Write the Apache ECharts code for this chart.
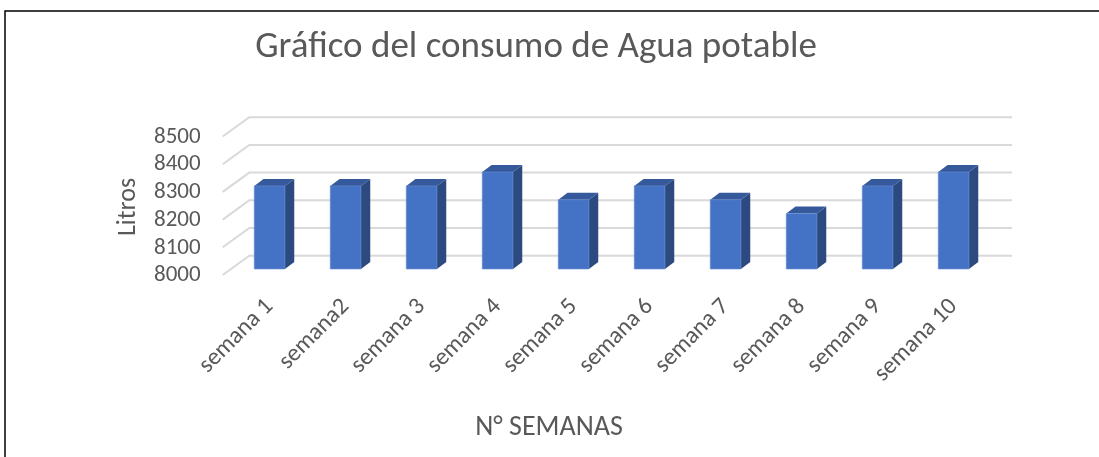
<!DOCTYPE html>
<html>
<head>
<meta charset="utf-8">
<script src="https://cdn.jsdelivr.net/npm/echarts@6/dist/echarts.min.js"></script>
<style>
  html, body { margin: 0; padding: 0; background: #fff; }
  #chart { width: 1099px; height: 457px; }
</style>
</head>
<body>
<div id="chart"></div>
<script>
'use strict';

var semanas = ['semana 1', 'semana2', 'semana 3', 'semana 4', 'semana 5',
               'semana 6', 'semana 7', 'semana 8', 'semana 9', 'semana 10'];
var litros = [8300, 8300, 8300, 8350, 8250, 8300, 8250, 8200, 8300, 8350];
var yTicks = [8000, 8100, 8200, 8300, 8400, 8500];

var FONT = 'Carlito, "Open Sans", sans-serif';
var yMin = yTicks[0];

var chart = echarts.init(document.getElementById('chart'));

// 3d-ish bar: front face, right side and top
function renderBar(params, api) {
    var top = api.coord([api.value(0), api.value(1)]);
    var base = api.coord([api.value(0), yMin]);
    var w = api.size([1, 0])[0] * 0.404;
    var dx = 9.3, dy = -7;
    var x = top[0] - w / 2;

    return {
        type: 'group',
        children: [
            {
                type: 'polygon',
                shape: { points: [[x + w, top[1]], [x + w + dx, top[1] + dy], [x + w + dx, base[1] + dy], [x + w, base[1]]] },
                style: { fill: '#2c4a80' }
            },
            {
                type: 'polygon',
                shape: { points: [[x, top[1]], [x + dx, top[1] + dy], [x + w + dx, top[1] + dy], [x + w, top[1]]] },
                style: { fill: '#36599c' }
            },
            {
                type: 'rect',
                shape: { x: x, y: top[1], width: w, height: base[1] - top[1] },
                style: { fill: '#4472c4', stroke: '#6a8fd2', lineWidth: 0.6 }
            }
        ]
    };
}

// back wall gridlines with the left floor diagonal, plus the tick label
function renderGrid(params, api) {
    var v = api.value(1);
    var y = api.coord([0, v])[1];
    var cs = params.coordSys;
    return {
        type: 'group',
        children: [
            {
                type: 'polyline',
                shape: { points: [[cs.x - 8.9, y + 6], [cs.x + 17.7, y - 13.3], [cs.x + cs.width + 20.4, y - 13.3]] },
                style: { stroke: '#d9d9d9', lineWidth: 2, fill: null }
            },
            {
                type: 'text',
                x: cs.x - 31, y: y + 6.5,
                style: {
                    text: String(v), fontFamily: FONT, fontSize: 23, fill: '#595959',
                    align: 'right', verticalAlign: 'middle'
                }
            }
        ]
    };
}

var option = {
    backgroundColor: '#fff',
    animation: false,
    title: {
        text: 'Gráfico del consumo de Agua potable',
        left: 531,
        top: 24,
        textAlign: 'center',
        textStyle: { fontFamily: FONT, fontSize: 37, fontWeight: 'normal', color: '#595959' }
    },
    grid: { left: 231.6, width: 760, top: 130.5, bottom: 188 },
    xAxis: {
        type: 'category',
        data: semanas,
        axisLine: { show: false },
        axisTick: { show: false },
        axisLabel: {
            rotate: 45,
            margin: 34,
            fontFamily: FONT,
            fontSize: 24,
            color: '#595959'
        }
    },
    yAxis: {
        type: 'value',
        min: 8000,
        max: 8500,
        interval: 100,
        axisLine: { show: false },
        axisTick: { show: false },
        splitLine: { show: false },
        axisLabel: { show: false }
    },
    graphic: [
        {
            type: 'rect',
            shape: { x: 5, y: 11, width: 1200, height: 600 },
            style: { fill: null, stroke: '#000', lineWidth: 1.5 },
            silent: true
        },
        {
            type: 'text',
            x: 128, y: 207, rotation: Math.PI / 2,
            style: { text: 'Litros', fontFamily: FONT, fontSize: 26, fill: '#595959', align: 'center', verticalAlign: 'middle' }
        },
        {
            type: 'text',
            x: 549, y: 428,
            style: { text: 'N° SEMANAS', fontFamily: FONT, fontSize: 28, fill: '#595959', align: 'center', verticalAlign: 'middle' }
        }
    ],
    series: [
        {
            type: 'custom',
            renderItem: renderGrid,
            data: yTicks.map(function (v) { return [0, v]; }),
            silent: true,
            z: 1
        },
        {
            type: 'custom',
            renderItem: renderBar,
            data: litros.map(function (v, i) { return [i, v]; }),
            z: 2
        }
    ]
};

chart.setOption(option);
</script>
</body>
</html>
